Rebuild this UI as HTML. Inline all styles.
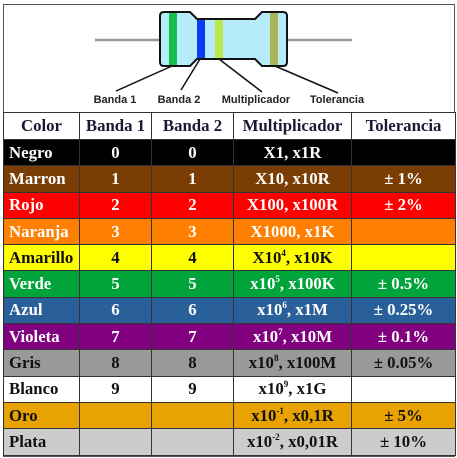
<!DOCTYPE html>
<html><head><meta charset="utf-8"><style>
body{margin:0;width:457px;height:458px;background:#fff;overflow:hidden;position:relative}
#frame{position:absolute;left:3px;top:4px;width:450px;height:451px;border:1px solid #555}
svg{position:absolute;left:0;top:0}
table{position:absolute;left:3px;top:112px;border-collapse:collapse;width:452px;table-layout:fixed;font-family:"Liberation Serif",serif;font-weight:bold;font-size:16.8px}
td,th{border:1px solid #333;height:25.3px;padding:0;text-align:center;color:#fff;white-space:nowrap;line-height:18px}
td:first-child{text-align:left;padding-left:5px}
th{background:#fff;color:#1a1a33;height:26px}
th:first-child{text-align:center}
sup{font-size:9px;vertical-align:7px;line-height:0}
.dk td{color:#111}
</style></head><body>
<div id="frame"></div>
<svg width="457" height="112">
<line x1="95" y1="40" x2="160" y2="40" stroke="#999" stroke-width="2.5"/>
<line x1="287" y1="40" x2="352" y2="40" stroke="#999" stroke-width="2.5"/>
<path d="M164,12 L190,12 L197,19 L255,19 L262,12 L283,12 Q287,12 287,16 L287,62 Q287,66 283,66 L262,66 L255,59 L197,59 L190,66 L164,66 Q160,66 160,62 L160,16 Q160,12 164,12 Z" fill="#b6ecf9" stroke="#111" stroke-width="2"/>
<rect x="169" y="13" width="8" height="52" fill="#13c04d"/>
<rect x="197" y="20" width="8" height="38" fill="#0a3cf0"/>
<rect x="215" y="20" width="8" height="38" fill="#b8e84a"/>
<rect x="270" y="13" width="8" height="52" fill="#a8b55a"/>
<path d="M160,16 L160,62" stroke="#111" stroke-width="2"/>
<g stroke="#111" stroke-width="1.5">
<line x1="172" y1="66" x2="116" y2="91"/>
<line x1="200" y1="59" x2="181" y2="90"/>
<line x1="219" y1="59" x2="262" y2="92"/>
<line x1="275" y1="66" x2="338" y2="93"/>
</g>
<g font-family="'Liberation Sans',sans-serif" font-weight="bold" font-size="11" fill="#222" text-anchor="middle">
<text x="115" y="103">Banda 1</text>
<text x="179" y="103">Banda 2</text>
<text x="256" y="103">Multiplicador</text>
<text x="337" y="103">Tolerancia</text>
</g>
</svg>
<table>
<colgroup><col style="width:76px"><col style="width:72px"><col style="width:82px"><col style="width:118px"><col style="width:104px"></colgroup>
<tr><th>Color</th><th>Banda 1</th><th>Banda 2</th><th>Multiplicador</th><th>Tolerancia</th></tr>
<tr style="background:#000"><td>Negro</td><td>0</td><td>0</td><td>X1, x1R</td><td></td></tr>
<tr style="background:#7a3e04"><td>Marron</td><td>1</td><td>1</td><td>X10, x10R</td><td>± 1%</td></tr>
<tr style="background:#ff0000"><td>Rojo</td><td>2</td><td>2</td><td>X100, x100R</td><td>± 2%</td></tr>
<tr style="background:#ff8000"><td>Naranja</td><td>3</td><td>3</td><td>X1000, x1K</td><td></td></tr>
<tr class="dk" style="background:#ffff00"><td>Amarillo</td><td>4</td><td>4</td><td>X10<sup>4</sup>, x10K</td><td></td></tr>
<tr style="background:#00a43a"><td>Verde</td><td>5</td><td>5</td><td>x10<sup>5</sup>, x100K</td><td>± 0.5%</td></tr>
<tr style="background:#2a6099"><td>Azul</td><td>6</td><td>6</td><td>x10<sup>6</sup>, x1M</td><td>± 0.25%</td></tr>
<tr style="background:#800080"><td>Violeta</td><td>7</td><td>7</td><td>x10<sup>7</sup>, x10M</td><td>± 0.1%</td></tr>
<tr class="dk" style="background:#999"><td>Gris</td><td>8</td><td>8</td><td>x10<sup>8</sup>, x100M</td><td>± 0.05%</td></tr>
<tr class="dk" style="background:#fff"><td>Blanco</td><td>9</td><td>9</td><td>x10<sup>9</sup>, x1G</td><td></td></tr>
<tr class="dk" style="background:#e8a202"><td>Oro</td><td></td><td></td><td>x10<sup>-1</sup>, x0,1R</td><td>± 5%</td></tr>
<tr class="dk" style="background:#ccc"><td>Plata</td><td></td><td></td><td>x10<sup>-2</sup>, x0,01R</td><td>± 10%</td></tr>
</table>
</body></html>
